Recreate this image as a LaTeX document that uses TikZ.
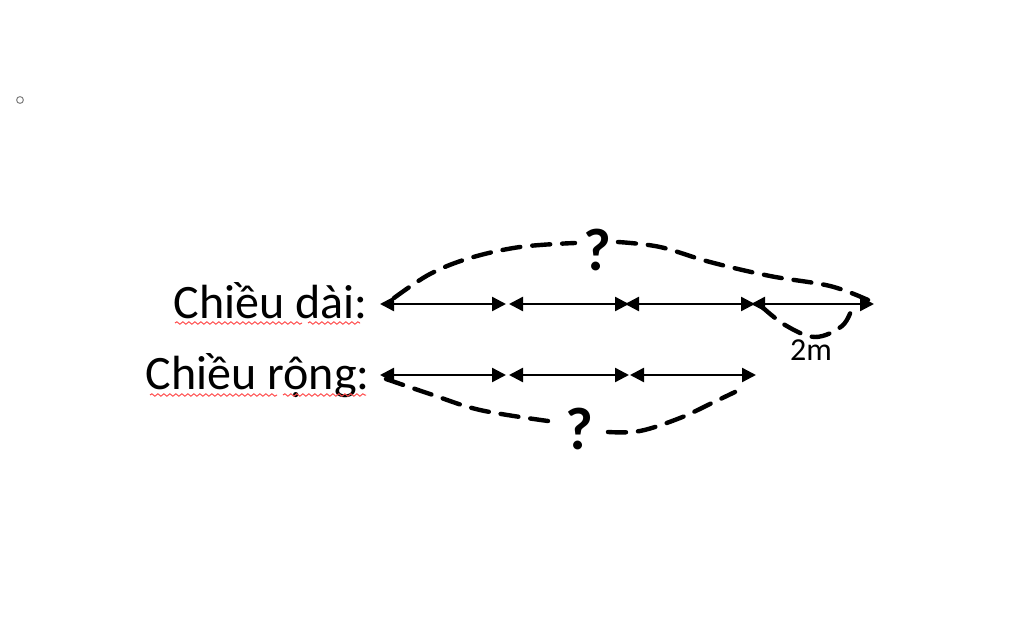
\documentclass[tikz,border=0pt]{standalone}
\usepackage{fontspec}
\setmainfont{Carlito}
\usetikzlibrary{arrows.meta,decorations.pathmorphing}
\begin{document}
\begin{tikzpicture}[x=0.5pt,y=-0.5pt,
  seg/.style={line width=1.2pt,{Triangle[length=7pt,width=7pt]}-{Triangle[length=7pt,width=7pt]}},
  hand/.style={line width=2.2pt,dash pattern=on 9pt off 6pt,line cap=round},
  lbl/.style={font=\fontsize{24pt}{28pt}\selectfont,anchor=base east,inner sep=0pt},
  qmark/.style={font=\fontsize{30pt}{34pt}\selectfont\bfseries,inner sep=0pt},
  squig/.style={red!70,line width=0.5pt,decorate,decoration={snake,amplitude=0.6pt,segment length=3pt}}]
\useasboundingbox (0,0) rectangle (1024,631);
\node[draw=gray,line width=0.5pt,circle,inner sep=1.2pt] (dot) at (20,100) {};
% labels
\node[lbl] (dai) at (368,318) {Chiều dài:};
\node[lbl] (rong) at (370,389) {Chiều rộng:};
\draw[squig] (175,323) -- (302,323);
\draw[squig] (308,323) -- (360,323);
\draw[squig] (150,395) -- (277,395);
\draw[squig] (283,395) -- (366,395);
% row 1 points
\coordinate (a0) at (380,304);
\coordinate (a1) at (506,304);
\coordinate (b0) at (509,304);
\coordinate (b1) at (629,304);
\coordinate (c0) at (625,304);
\coordinate (c1) at (755,304);
\coordinate (d0) at (751,304);
\coordinate (d1) at (874,304);
\draw[seg] (a0) -- (a1);
\draw[seg] (b0) -- (b1);
\draw[seg] (c0) -- (c1);
\draw[seg] (d0) -- (d1);
% row 2 points
\coordinate (e0) at (380,375);
\coordinate (e1) at (506,375);
\coordinate (f0) at (509,375);
\coordinate (f1) at (629,375);
\coordinate (g0) at (630,375);
\coordinate (g1) at (756,375);
\draw[seg] (e0) -- (e1);
\draw[seg] (f0) -- (f1);
\draw[seg] (g0) -- (g1);
% hand-drawn dashed curves
\draw[hand] plot[smooth,tension=0.6] coordinates {(394,298) (430,274) (470,258) (520,247) (575,243)};
\draw[hand] plot[smooth,tension=0.6] coordinates {(618,242) (660,247) (710,262) (770,276) (830,286) (868,300)};
\node[qmark] (q1) at (597,250) {?};
\draw[hand] plot[smooth,tension=0.6] coordinates {(386,379) (430,394) (480,410) (548,421)};
\draw[hand] plot[smooth,tension=0.6] coordinates {(608,432) (640,431) (680,418) (712,403) (735,392)};
\node[qmark] (q2) at (579,429) {?};
\draw[hand] plot[smooth,tension=0.6] coordinates {(761,306) (785,325) (815,337) (842,326) (852,308)};
\node[font=\fontsize{16pt}{18pt}\selectfont,inner sep=0pt] (two) at (811,350) {2m};
\end{tikzpicture}
\end{document}
